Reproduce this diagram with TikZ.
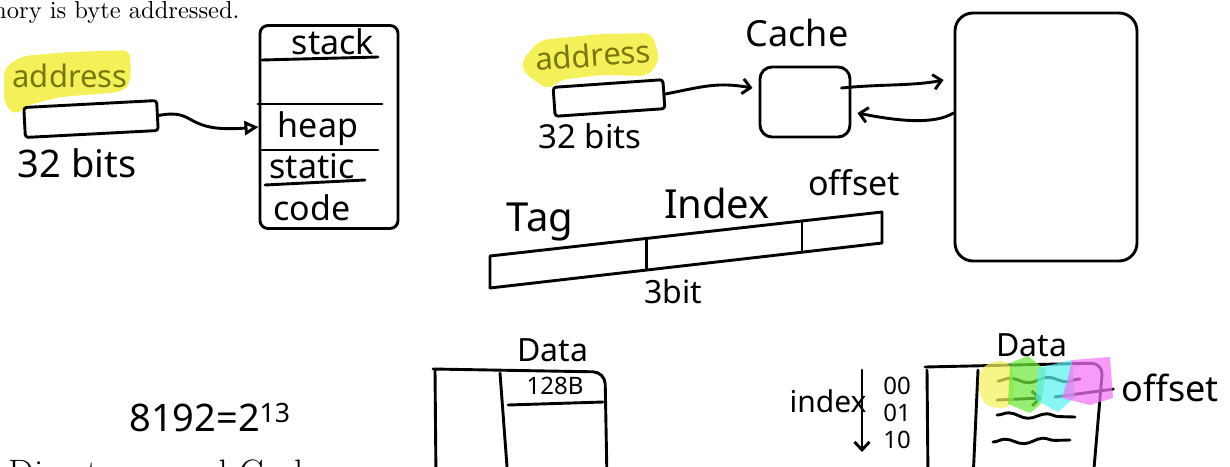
\documentclass[tikz,border=0pt]{standalone}
\usepackage{fontspec}
\newfontfamily\handfont{Noto Sans}
\usetikzlibrary{arrows.meta,positioning,calc,decorations.pathmorphing}
\definecolor{hlyellow}{RGB}{244,240,90}
\definecolor{hlolive}{RGB}{122,120,12}
\definecolor{hlgreen}{RGB}{110,232,60}
\definecolor{hlcyan}{RGB}{90,240,240}
\definecolor{hlpink}{RGB}{245,115,245}
\tikzset{
  pen/.style={line width=2.9pt, line cap=round, line join=round},
  hand/.style={font=\handfont\fontsize{#1}{#1}\selectfont, inner sep=0pt},
  hand/.default=30,
  barb/.style={-{Straight Barb[length=8pt,width=15pt]}},
  wavy/.style={decorate, decoration={snake, amplitude=2.5pt, segment length=38pt}},
  marker/.style={opacity=0.72},
  page/.style={inner sep=0pt, scale=2.45, transform shape},
}

\begin{document}
\begin{tikzpicture}[x=1pt,y=-1pt]
\useasboundingbox (0,0) rectangle (1230,466);
\clip (0,0) rectangle (1230,466);

% Page text
\node[page, anchor=base east, font=\fontsize{10}{12}\selectfont] (intro) at (240,18) {memory is byte addressed.};
\node[page, anchor=base west, font=\fontsize{15}{18}\selectfont] (heading) at (8,485) {Direct mapped Cache};

% Left: address and memory layout
\fill[hlyellow, rounded corners=8pt] (4,68) -- (22,56) -- (70,52) -- (130,50) -- (131,82) -- (122,92) -- (60,97) -- (25,106) -- (16,116) -- (4,104) -- cycle;
\node[hand=31, text=hlolive] (addrLtxt) at (70,76) {address};
\node[pen, draw, rounded corners=3pt, minimum width=133pt, minimum height=30pt, rotate=3] (addrL) at (91,119) {};
\node[hand=38] (bitsL) at (77,163) {32 bits};

\node[pen, draw, rounded corners=8pt, minimum width=138pt, minimum height=203pt] (mem) at (329,127) {};
\draw[pen] (262,60) -- (378,57);
\draw[pen] (258,104) -- (382,104);
\draw[pen] (262,150) -- (378,150);
\draw[pen] (265,185) -- (365,180);
\node[hand=34] (stack) at (333,42) {stack};
\node[hand=34] (heap) at (318,129) {heap};
\node[hand=34] (static) at (312,166) {static};
\node[hand=34] (code) at (312,208) {code};

\draw[pen, -{Triangle[open, length=14pt, width=14pt]}] (addrL.east) .. controls (198,108) and (182,133) .. (mem.west);

% Middle: address, cache and memory
\fill[hlyellow, rounded corners=8pt] (522,60) -- (540,40) -- (600,34) -- (652,33) -- (660,60) -- (648,76) -- (600,75) -- (560,80) -- (548,90) -- (523,72) -- cycle;
\node[hand=31, text=hlolive, rotate=4] (addrMtxt) at (593,55) {address};
\node[pen, draw, rounded corners=3pt, minimum width=110pt, minimum height=29pt, rotate=4] (addrM) at (609,98) {};
\node[hand=33] (bitsM) at (590,136) {32 bits};

\node[hand=36] (cachetxt) at (797,33) {Cache};
\node[pen, draw, rounded corners=12pt, minimum width=90pt, minimum height=70pt] (cache) at (805,102) {};
\node[pen, draw, rounded corners=18pt, minimum width=182pt, minimum height=248pt] (ram) at (1046,137) {};

\draw[pen, barb] (addrM.east) .. controls +(40,-8) and +(-35,-6) .. ([xshift=-6pt, yshift=14pt]cache.west);
\draw[pen, barb] ([xshift=-10pt, yshift=14pt]cache.east) .. controls +(40,-4) and +(-30,6) .. ([xshift=-10pt, yshift=57pt]ram.west);
\draw[pen, barb] ([yshift=24pt]ram.west) .. controls +(-20,12) and +(40,8) .. ([xshift=6pt, yshift=-11pt]cache.east);

% Address fields
\coordinate (barNW) at (490,256);
\coordinate (barNE) at (882,212);
\coordinate (barSE) at (882,243);
\coordinate (barSW) at (490,288);
\draw[pen] (barNW) -- (barNE) -- (barSE) -- (barSW) -- cycle;
\draw[pen] ($(barNW)!0.40!(barNE)$) -- ($(barSW)!0.40!(barSE)$);
\draw[pen] ($(barNW)!0.796!(barNE)$) -- ($(barSW)!0.796!(barSE)$);
\node[hand=40] (tag) at (540,222) {Tag};
\node[hand=40] (index) at (717,203) {Index};
\node[hand=34] (offset) at (854,183) {offset};
\node[hand=32] (threebit) at (673,291) {3bit};

% Bottom left
\node[hand=38] (pow) at (210,418) {8192=2\textsuperscript{13}};

% Data table with block size
\node[hand=32] (dataA) at (553,350) {Data};
\draw[pen, rounded corners=12pt] (433,369) -- (605,372) -- (607,480);
\draw[pen] (435,370) -- (436,480);
\draw[pen] (500,373) -- (508,480);
\node[hand=24] (block) at (555,386) {128B};
\draw[pen] (508,405) -- (603,402);

% Data table with index and offset
\node[hand=32] (dataB) at (1032,345) {Data};
\draw[pen, rounded corners=12pt] (925,367) -- (1103,363) -- (1093,480);
\draw[pen] (927,370) -- (928,480);
\draw[pen] (978,370) -- (973,480);

\node[hand=30] (idxtxt) at (828,401) {index};
\coordinate (idxtop) at (862,370);
\coordinate (idxbot) at (862,452);
\draw[pen, barb] (idxtop) -- (idxbot);
\foreach \lbl/\yy in {00/386, 01/413, 10/440}
  \node[hand=24] (row\lbl) at (897,\yy) {\lbl};

\draw[pen, wavy] (998,381) -- (1080,379);
\coordinate (ptrA) at (997,400);
\coordinate (ptrB) at (1042,398);
\draw[pen, barb] (ptrA) -- (ptrB);
\node[hand=36] (offsetB) at (1170,388) {offset};
\coordinate (ptrC) at (1055,397);
\draw[pen, shorten >=8pt] (ptrC) -- (offsetB.west);
\draw[pen, wavy] (997,415) -- (1075,417);
\draw[pen, wavy] (993,442) -- (1070,440);

% Highlighter marks
\fill[hlyellow, marker, rounded corners=10pt] (978,372) -- (992,360) -- (1012,362) -- (1015,405) -- (995,410) -- (980,400) -- cycle;
\fill[hlgreen, marker] (1010,363) -- (1028,356) -- (1046,370) -- (1041,404) -- (1030,413) -- (1008,404) -- cycle;
\fill[hlcyan, marker] (1038,368) -- (1072,360) -- (1075,397) -- (1058,412) -- (1036,400) -- cycle;
\fill[hlpink, marker] (1072,360) -- (1110,357) -- (1113,398) -- (1090,405) -- (1062,398) -- (1068,378) -- cycle;
\end{tikzpicture}
\end{document}
